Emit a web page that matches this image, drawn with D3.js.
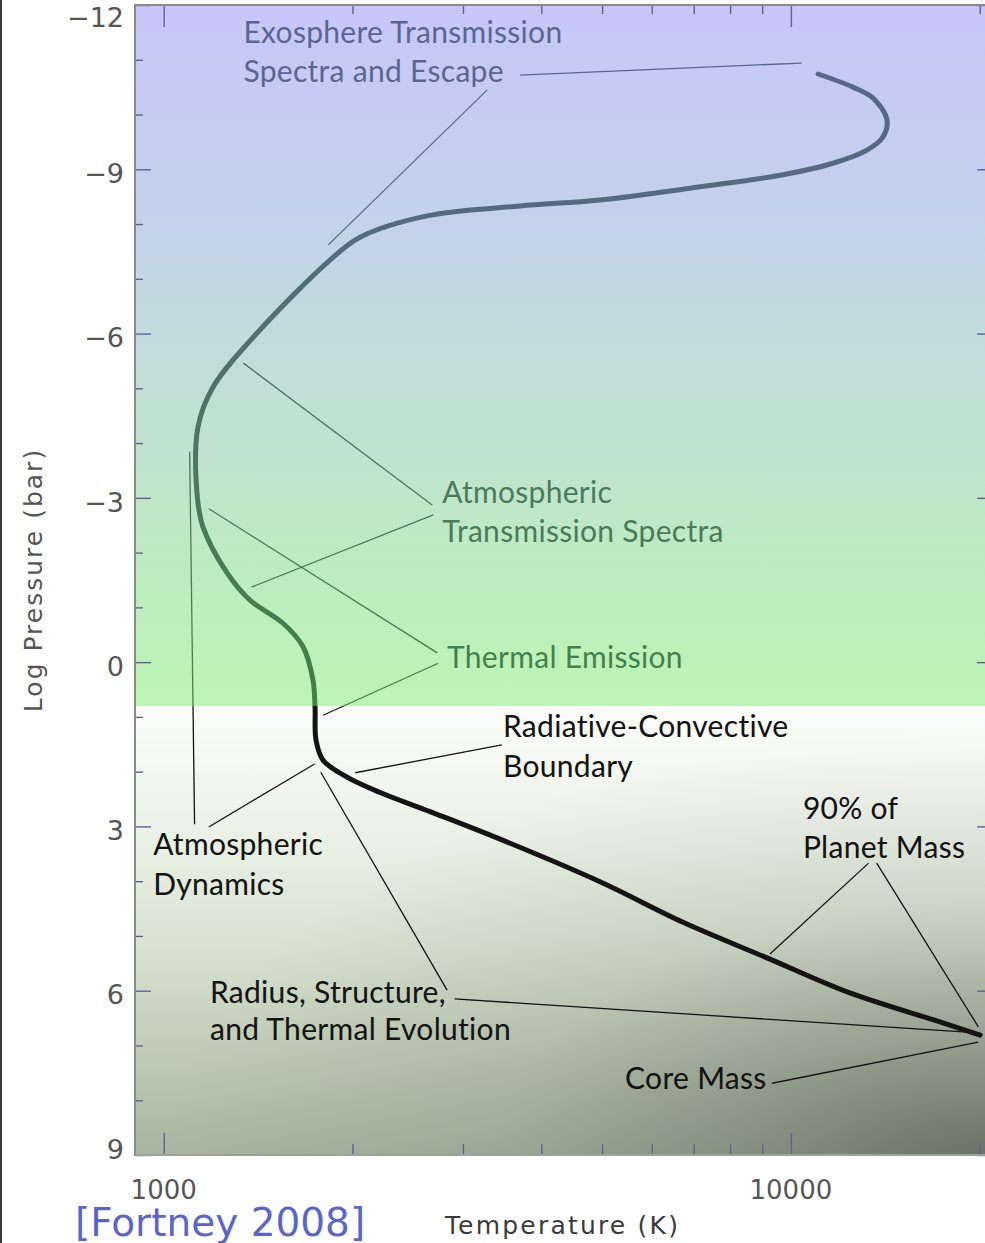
<!DOCTYPE html>
<html>
<head>
<meta charset="utf-8">
<script src="https://cdn.jsdelivr.net/npm/d3@7"></script>
<style>
  html, body { margin: 0; padding: 0; background: #fff; }
  svg { display: block; }
</style>
</head>
<body>
<svg id="chart" width="985" height="1243"></svg>
<script>
// Pressure–temperature profile of a hot Jupiter, from the exosphere down to the core.
const profileTemperature = [
  11050, 12560, 13520, 14230, 14020, 13220, 11670, 9715, 7165, 4962,
  3700, 2630, 2056, 1841, 1409, 1198, 1134, 1130, 1155, 1262,
  1373, 1550, 1668, 1730, 1743, 1749, 1795, 1960, 2213, 2659,
  3400, 4962, 6730, 9160, 12420, 16850, 20030
];
const profileLogPressure = [
  -10.74, -10.50, -10.30, -9.90, -9.59, -9.35, -9.11, -8.90, -8.68, -8.44,
  -8.33, -8.15, -7.76, -7.34, -6.01, -5.02, -4.29, -3.09, -2.47, -1.63,
  -1.13, -0.71, -0.28, 0.33, 0.82, 1.42, 1.79, 2.10, 2.38, 2.73,
  3.21, 4.01, 4.75, 5.40, 6.04, 6.53, 6.81
];

// Radiative zone ends here (log P, bar)
const convectiveBoundary = 0.8;

const xTickMajor = [1000, 10000];
const xTickMinor = [2000, 3000, 4000, 5000, 6000, 7000, 8000, 9000, 20000];
const xTickLabels = ["1000", "10000"];
const yTickMajor = [-12, -9, -6, -3, 0, 3, 6, 9];
const yTickMinor = [-11, -10, -8, -7, -5, -4, -2, -1, 1, 2, 4, 5, 7, 8];

// Annotation text lines, anchored at (temperature, log pressure)
const noteText = [
  "Exosphere Transmission", "Spectra and Escape",
  "Atmospheric", "Transmission Spectra",
  "Thermal Emission",
  "Radiative-Convective", "Boundary",
  "Atmospheric", "Dynamics",
  "Radius, Structure,", "and Thermal Evolution",
  "90% of", "Planet Mass",
  "Core Mass"
];
const noteT = [1340, 1340, 2780, 2780, 2830, 3475, 3475, 962, 962, 1185, 1185, 10450, 10450, 5440];
const noteP = [-11.31, -10.59, -2.91, -2.19, 0.11, 1.37, 2.10, 3.52, 4.25, 6.22, 6.90, 2.86, 3.58, 7.80];

// Leader lines from each note to the part of the profile it refers to
const leaderFrom = [
  [3700, -10.72], [3280, -10.45],
  [1340, -5.46], [1380, -1.37],
  [1180, -2.80], [1795, 0.97],
  [2020, 2.02],
  [1100, -3.84], [1180, 3.01],
  [1780, 2.01], [2910, 6.15],
  [9260, 5.33], [13700, 3.67],
  [9330, 7.69]
];
const leaderTo = [
  [10400, -10.94], [1830, -7.62],
  [2680, -2.87], [2690, -2.69],
  [2730, -0.17], [2740, 0.02],
  [3460, 1.51],
  [1120, 2.96], [1740, 1.86],
  [2830, 5.99], [19900, 6.77],
  [13300, 3.67], [19900, 6.66],
  [19900, 6.94]
];

const W = 985, H = 1243;
const svg = d3.select("#chart");
const defs = svg.append("defs");

const x = d3.scaleLog().domain([900, 21000]).range([135, 993]);
const y = d3.scaleLinear().domain([-12, 9]).range([5, 1155]);
const [x0, x1] = x.range();
const [y0, y1] = y.range();
const yb = y(convectiveBoundary);

// Ink: lines and text above the boundary take on the tint of the upper layers
const ink = defs.append("linearGradient").attr("id", "ink")
  .attr("gradientUnits", "userSpaceOnUse")
  .attr("x1", 0).attr("y1", 0).attr("x2", 0).attr("y2", H);
[[0, "#5d6492"], [200, "#566a80"], [400, "#4f7468"], [560, "#497c55"],
 [yb - 0.5, "#408244"], [yb + 0.5, "#141414"], [H, "#141414"]]
  .forEach(([py, c]) => ink.append("stop").attr("offset", py / H).attr("stop-color", c));

// Upper atmosphere background
const upper = defs.append("linearGradient").attr("id", "upperBg")
  .attr("gradientUnits", "userSpaceOnUse")
  .attr("x1", 0).attr("y1", y0).attr("x2", 0).attr("y2", yb);
[[0, "#c7c7f8"], [0.25, "#c4cfee"], [0.5, "#c1dcda"], [0.75, "#bee9c5"], [1, "#bbf5b4"]]
  .forEach(([o, c]) => upper.append("stop").attr("offset", o).attr("stop-color", c));

// Interior background
const lower = defs.append("linearGradient").attr("id", "lowerBg")
  .attr("gradientUnits", "userSpaceOnUse")
  .attr("x1", 0).attr("y1", yb).attr("x2", 0).attr("y2", y1);
[[0, "#fcfdfb"], [0.32, "#e8efe4"], [0.54, "#d7e2d0"], [0.76, "#c0ccb8"], [1, "#a5b59f"]]
  .forEach(([o, c]) => lower.append("stop").attr("offset", o).attr("stop-color", c));

const shade = defs.append("radialGradient").attr("id", "deepShade")
  .attr("gradientUnits", "userSpaceOnUse")
  .attr("cx", 0).attr("cy", 0).attr("r", 1)
  .attr("gradientTransform", `translate(${x1 - 8},${y1 + 5}) scale(820,430)`);
[[0, 0.5], [0.3, 0.28], [0.6, 0.1], [1, 0]]
  .forEach(([o, a]) => shade.append("stop").attr("offset", o)
    .attr("stop-color", "#2e302d").attr("stop-opacity", a));

svg.append("rect").attr("x", x0).attr("y", y0).attr("width", x1 - x0).attr("height", yb - y0)
  .attr("fill", "url(#upperBg)");
svg.append("rect").attr("x", x0).attr("y", yb).attr("width", x1 - x0).attr("height", y1 - yb)
  .attr("fill", "url(#lowerBg)");
svg.append("rect").attr("x", x0).attr("y", yb).attr("width", x1 - x0).attr("height", y1 - yb)
  .attr("fill", "url(#deepShade)");

// Leader lines
const leaders = leaderFrom.map((a, i) => [a, leaderTo[i]]);
svg.append("g").selectAll("line").data(leaders).join("line")
  .attr("x1", d => x(d[0][0])).attr("y1", d => y(d[0][1]))
  .attr("x2", d => x(d[1][0])).attr("y2", d => y(d[1][1]))
  .attr("stroke", "url(#ink)").attr("stroke-width", 1.3);

// Profile
const profile = profileTemperature.map((t, i) => ({ T: t, P: profileLogPressure[i] }));
const line = d3.line().x(d => x(d.T)).y(d => y(d.P)).curve(d3.curveCatmullRom.alpha(0.5));
svg.append("path").datum(profile).attr("d", line)
  .attr("fill", "none").attr("stroke", "url(#ink)")
  .attr("stroke-width", 5).attr("stroke-linecap", "round").attr("stroke-linejoin", "round");

// Notes
svg.append("g").selectAll("text").data(noteText).join("text")
  .attr("x", (d, i) => x(noteT[i])).attr("y", (d, i) => y(noteP[i]))
  .attr("font-family", "Lato, 'Open Sans', sans-serif").attr("font-size", 30)
  .attr("letter-spacing", 0.3)
  .attr("fill", "url(#ink)")
  .text(d => d);

// Ticks (inward on all four sides)
const tickStroke = g => g.call(s => s.select(".domain").remove())
  .call(s => s.selectAll(".tick line").attr("stroke", "url(#ink)").attr("stroke-width", 1.4));
const noLabel = () => "";
svg.append("g").attr("transform", `translate(${x0},0)`)
  .call(d3.axisLeft(y).tickValues(yTickMajor).tickSize(-16).tickFormat(noLabel)).call(tickStroke);
svg.append("g").attr("transform", `translate(${x0},0)`)
  .call(d3.axisLeft(y).tickValues(yTickMinor).tickSize(-8).tickFormat(noLabel)).call(tickStroke);
svg.append("g").attr("transform", `translate(${x1},0)`)
  .call(d3.axisRight(y).tickValues(yTickMajor).tickSize(-16).tickFormat(noLabel)).call(tickStroke);
svg.append("g").attr("transform", `translate(${x1},0)`)
  .call(d3.axisRight(y).tickValues(yTickMinor).tickSize(-8).tickFormat(noLabel)).call(tickStroke);
svg.append("g").attr("transform", `translate(0,${y1})`)
  .call(d3.axisBottom(x).tickValues(xTickMajor).tickSize(-22).tickFormat(noLabel)).call(tickStroke);
svg.append("g").attr("transform", `translate(0,${y1})`)
  .call(d3.axisBottom(x).tickValues(xTickMinor).tickSize(-11).tickFormat(noLabel)).call(tickStroke);
svg.append("g").attr("transform", `translate(0,${y0})`)
  .call(d3.axisTop(x).tickValues(xTickMajor).tickSize(-22).tickFormat(noLabel)).call(tickStroke);
svg.append("g").attr("transform", `translate(0,${y0})`)
  .call(d3.axisTop(x).tickValues(xTickMinor).tickSize(-9).tickFormat(noLabel)).call(tickStroke);

// Frame
const frame = svg.append("g").attr("stroke", "#8a8a8a").attr("stroke-width", 2).attr("fill", "none");
frame.append("line").attr("x1", x0).attr("x2", x0).attr("y1", y0 - 1).attr("y2", y1 + 1);
frame.append("line").attr("x1", x0).attr("x2", x1).attr("y1", y0).attr("y2", y0);
frame.append("line").attr("x1", x0).attr("x2", x1).attr("y1", y1).attr("y2", y1).attr("stroke", "#a0a0a0");
frame.append("line").attr("x1", x1).attr("x2", x1).attr("y1", y0).attr("y2", y1);

// Outer border on the left edge
svg.append("line").attr("x1", 1).attr("x2", 1).attr("y1", 0).attr("y2", H)
  .attr("stroke", "#3a3a3a").attr("stroke-width", 2);

// Tick labels
const fmt = v => (v < 0 ? "\u2212" + Math.abs(v) : String(v));
svg.append("g").selectAll("text").data(yTickMajor).join("text")
  .attr("x", x0 - 11)
  .attr("y", v => Math.min(Math.max(y(v) + 4, y0 + 12), y1 - 6))
  .attr("dy", "0.36em")
  .attr("text-anchor", "end")
  .attr("font-family", "'DejaVu Sans', sans-serif").attr("font-size", 27)
  .attr("fill", "#555")
  .text(fmt);
svg.append("g").selectAll("text").data(xTickMajor).join("text")
  .attr("x", v => x(v)).attr("y", y1 + 35).attr("dy", "0.36em")
  .attr("text-anchor", "middle")
  .attr("font-family", "'DejaVu Sans', sans-serif").attr("font-size", 26)
  .attr("fill", "#555")
  .text((v, i) => xTickLabels[i]);

// Axis titles
svg.append("text")
  .attr("transform", `translate(42,${(y0 + y1) / 2}) rotate(-90)`)
  .attr("text-anchor", "middle")
  .attr("font-family", "'DejaVu Sans', sans-serif").attr("font-size", 25)
  .attr("letter-spacing", 2)
  .attr("fill", "#555")
  .text("Log Pressure (bar)");
svg.append("text")
  .attr("x", (443 + 682) / 2).attr("y", 1234)
  .attr("text-anchor", "middle")
  .attr("font-family", "'DejaVu Sans', sans-serif").attr("font-size", 25)
  .attr("letter-spacing", 2.2)
  .attr("fill", "#3a3a3a")
  .text("Temperature (K)");

// Source
svg.append("text")
  .attr("x", 75).attr("y", 1236)
  .attr("font-family", "'DejaVu Sans', sans-serif").attr("font-size", 39)
  .attr("fill", "#5b65c9")
  .text("[Fortney 2008]");
</script>
</body>
</html>
